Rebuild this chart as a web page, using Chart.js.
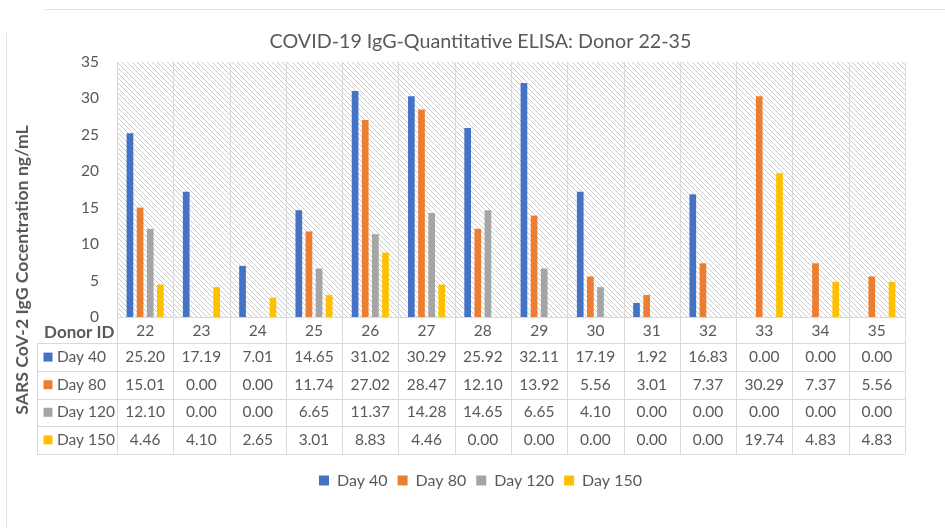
<!DOCTYPE html>
<html>
<head>
<meta charset="utf-8">
<script src="https://cdn.jsdelivr.net/npm/chart.js@4.4.1/dist/chart.umd.min.js"></script>
<style>
  html, body { margin: 0; padding: 0; background: #ffffff; }
  #wrap { width: 945px; height: 528px; position: relative; }
</style>
</head>
<body>
<div id="wrap"><canvas id="c" width="945" height="528"></canvas></div>
<script>
// ---- data ----
const donorIds = ['22','23','24','25','26','27','28','29','30','31','32','33','34','35'];
const day40  = [25.20, 17.19, 7.01, 14.65, 31.02, 30.29, 25.92, 32.11, 17.19, 1.92, 16.83, 0.00, 0.00, 0.00];
const day80  = [15.01, 0.00, 0.00, 11.74, 27.02, 28.47, 12.10, 13.92, 5.56, 3.01, 7.37, 30.29, 7.37, 5.56];
const day120 = [12.10, 0.00, 0.00, 6.65, 11.37, 14.28, 14.65, 6.65, 4.10, 0.00, 0.00, 0.00, 0.00, 0.00];
const day150 = [4.46, 4.10, 2.65, 3.01, 8.83, 4.46, 0.00, 0.00, 0.00, 0.00, 0.00, 19.74, 4.83, 4.83];
const seriesNames = ['Day 40', 'Day 80', 'Day 120', 'Day 150'];
const yTickValues = [0, 5, 10, 15, 20, 25, 30, 35];
const titleText = 'COVID-19 IgG-Quantitative ELISA: Donor 22-35';
const yTitleText = 'SARS CoV-2 IgG Cocentration ng/mL';
const tableHeader = 'Donor ID';

// ---- styles ----
const seriesColors = ['#4472C4', '#ED7D31', '#A5A5A5', '#FFC000'];
const textColor = '#595959';
const gridColor = '#d9d9d9';
const FONT = 'Lato, "Open Sans", sans-serif';

function makeHatch() {
  const size = 5;
  const c = document.createElement('canvas');
  c.width = size; c.height = size;
  const g = c.getContext('2d');
  g.fillStyle = '#ffffff';
  g.fillRect(0, 0, size, size);
  g.fillStyle = '#cbcbcb';
  for (let i = 0; i < size; i++) g.fillRect(i, i, 1, 1);
  return c;
}

const tableGeom = { leftX: 37, headerH: 26.3, rowH: 27.6 };

const decoPlugin = {
  id: 'deco',
  beforeDraw(chart) {
    const ctx = chart.ctx;
    ctx.save();
    ctx.fillStyle = '#ffffff';
    ctx.fillRect(0, 0, chart.width, chart.height);
    ctx.strokeStyle = '#e3e3e3';
    ctx.lineWidth = 1;
    ctx.beginPath();
    ctx.moveTo(45, 9.5); ctx.lineTo(chart.width, 9.5);
    ctx.moveTo(6.5, 33); ctx.lineTo(6.5, chart.height);
    ctx.stroke();
    ctx.restore();
  },
  beforeDatasetsDraw(chart) {
    const ctx = chart.ctx;
    const a = chart.chartArea;
    ctx.save();
    const pat = ctx.createPattern(makeHatch(), 'repeat');
    ctx.fillStyle = pat;
    ctx.fillRect(a.left, a.top, a.right - a.left, a.bottom - a.top);
    ctx.restore();
  },
  afterDatasetsDraw(chart) {
    const ctx = chart.ctx;
    const a = chart.chartArea;
    const n = donorIds.length;
    const w = (a.right - a.left) / n;
    const xs = chart.scales.x;
    const rowTops = [a.bottom + tableGeom.headerH];
    for (let r = 1; r <= seriesNames.length; r++) rowTops.push(rowTops[0] + r * tableGeom.rowH);
    const tableBottom = rowTops[rowTops.length - 1];

    ctx.save();
    ctx.strokeStyle = gridColor;
    ctx.lineWidth = 1;
    ctx.beginPath();
    for (let k = 0; k <= n; k++) {
      const x = Math.round(a.left + k * w) + 0.5;
      ctx.moveTo(x, a.top); ctx.lineTo(x, tableBottom);
    }
    ctx.moveTo(tableGeom.leftX + 0.5, rowTops[0]); ctx.lineTo(tableGeom.leftX + 0.5, tableBottom);
    ctx.moveTo(a.left, Math.round(a.bottom) + 0.5); ctx.lineTo(a.right, Math.round(a.bottom) + 0.5);
    rowTops.forEach(y => {
      const yy = Math.round(y) + 0.5;
      ctx.moveTo(tableGeom.leftX, yy); ctx.lineTo(a.right, yy);
    });
    ctx.stroke();

    ctx.fillStyle = textColor;
    ctx.textBaseline = 'middle';
    ctx.textAlign = 'center';
    ctx.font = '15.5px ' + FONT;
    const headerMid = a.bottom + tableGeom.headerH / 2 + 0.5;
    donorIds.forEach((id, i) => {
      ctx.fillText(id, xs.getPixelForValue(i), headerMid);
    });
    ctx.textAlign = 'right';
    ctx.font = 'bold 17px ' + FONT;
    ctx.fillText(tableHeader, a.left - 2.5, headerMid + 1.5);

    const allSeries = [day40, day80, day120, day150];
    allSeries.forEach((vals, r) => {
      const mid = rowTops[r] + tableGeom.rowH / 2;
      ctx.fillStyle = seriesColors[r];
      ctx.fillRect(tableGeom.leftX + 6.5, mid - 4.5, 9, 9);
      ctx.fillStyle = textColor;
      ctx.textAlign = 'left';
      ctx.font = '15.5px ' + FONT;
      ctx.fillText(seriesNames[r], tableGeom.leftX + 20, mid);
      ctx.textAlign = 'center';
      vals.forEach((v, i) => {
        ctx.fillText(v.toFixed(2), xs.getPixelForValue(i), mid);
      });
    });

    ctx.translate(22, 270);
    ctx.rotate(-Math.PI / 2);
    ctx.textAlign = 'center';
    ctx.font = 'bold 17.7px ' + FONT;
    ctx.fillStyle = textColor;
    ctx.fillText(yTitleText, 0, 0);
    ctx.restore();
  }
};

const datasets = [day40, day80, day120, day150].map((vals, i) => ({
  label: seriesNames[i],
  data: vals,
  backgroundColor: seriesColors[i],
  borderWidth: 0,
  categoryPercentage: 0.72,
  barPercentage: 0.66
}));

new Chart(document.getElementById('c'), {
  type: 'bar',
  data: { labels: donorIds, datasets },
  plugins: [decoPlugin],
  options: {
    responsive: false,
    animation: false,
    devicePixelRatio: 1,
    layout: { padding: { left: 56, right: 40, top: 0, bottom: 29.5 } },
    plugins: {
      title: {
        display: true,
        text: titleText,
        color: textColor,
        font: { family: FONT, size: 19.7, weight: 'normal' },
        padding: { top: 29.5, bottom: 8.8 }
      },
      legend: {
        display: true,
        position: 'bottom',
        labels: {
          color: textColor,
          font: { family: FONT, size: 16 },
          boxWidth: 10,
          boxHeight: 10,
          padding: 10
        }
      },
      tooltip: { enabled: false }
    },
    scales: {
      x: {
        offset: true,
        grid: { display: false, drawTicks: false },
        border: { display: false },
        ticks: { display: false },
        afterFit(scale) { scale.height = 145.5; }
      },
      y: {
        min: 0,
        max: 35,
        afterBuildTicks(scale) { scale.ticks = yTickValues.map(v => ({ value: v })); },
        grid: { display: false, drawTicks: false },
        border: { display: false },
        ticks: {
          color: textColor,
          font: { family: FONT, size: 15.5 },
          padding: 18
        },
        afterFit(scale) { scale.width = 61; }
      }
    }
  }
});
</script>
</body>
</html>
